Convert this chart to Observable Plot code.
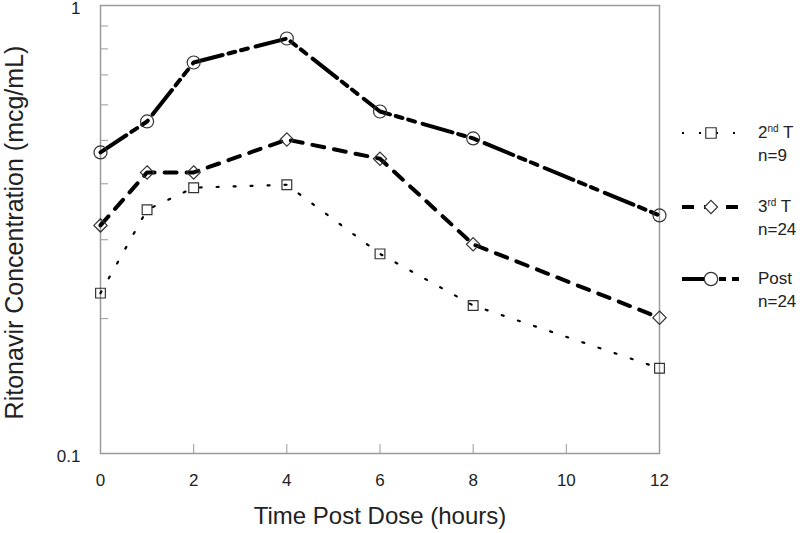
<!DOCTYPE html>
<html>
<head>
<meta charset="utf-8">
<script src="https://cdn.jsdelivr.net/npm/d3@7"></script>
<script src="https://cdn.jsdelivr.net/npm/@observablehq/plot@0.6"></script>
<style>
  html, body { margin: 0; padding: 0; background: white; }
  #wrap { position: relative; width: 800px; height: 533px; font-family: "Liberation Sans", Arial, sans-serif; color: #222; }
  #legend { position: absolute; left: 0; top: 0; width: 800px; height: 533px; pointer-events: none; }
  .lg-item { position: absolute; left: 680px; }
  .lg-text { position: absolute; left: 758px; font-size: 17px; line-height: 23px; color: #222; white-space: nowrap; }
  .lg-text sup { font-size: 10px; vertical-align: 6px; line-height: 0; }
</style>
</head>
<body>
<div id="wrap"><div id="chart"></div><div id="legend"></div></div>
<script>
// ---- data ----
const times = [0, 1, 2, 4, 6, 8, 12];
const secondT = [0.228, 0.350, 0.392, 0.398, 0.279, 0.214, 0.155];
const thirdT  = [0.323, 0.424, 0.424, 0.502, 0.455, 0.293, 0.201];
const postT   = [0.470, 0.551, 0.746, 0.844, 0.580, 0.505, 0.340];
const xTickValues = [0, 2, 4, 6, 8, 10, 12];
const xInnerTicks = [2, 4, 6, 8, 10];
const yLabelTicks = [0.1, 1];
const yMinorTicks = [0.2, 0.3, 0.4, 0.5, 0.6, 0.7, 0.8, 0.9];
const seriesNames = ["2nd T", "3rd T", "Post"];
const seriesN = ["n=9", "n=24", "n=24"];

const toRows = vals => times.map((t, i) => ({t, v: vals[i]}));
const sData = toRows(secondT), tData = toRows(thirdT), pData = toRows(postT);

const styles = [
  {data: sData, dash: "2,15", width: 2.2, symbol: "square", r: 5.5},
  {data: tData, dash: "12,10", width: 4, symbol: "diamond2", r: 6},
  {data: pData, dash: "31,6,7,6,7,8", width: 4, symbol: "circle", r: 6.5}
];

const font = "'Liberation Sans', Arial, sans-serif";

const chart = Plot.plot({
  width: 800, height: 533,
  marginLeft: 100, marginRight: 141, marginTop: 5, marginBottom: 80,
  style: {fontFamily: font, fontSize: "17px", background: "white", color: "#222", overflow: "visible"},
  x: {domain: [0, 12]},
  y: {type: "log", domain: [0.1, 1]},
  marks: [
    Plot.frame({stroke: "#9a9a9a", strokeWidth: 1.5}),
    Plot.axisY({ticks: yMinorTicks, tickSize: -8, tickFormat: () => "", stroke: "#9a9a9a", label: null}),
    Plot.axisY({ticks: yLabelTicks, tickSize: 0, tickPadding: 20, tickFormat: d => String(d), fontSize: 17, dy: 3, label: null}),
    Plot.axisX({ticks: xInnerTicks, tickSize: -9, tickFormat: () => "", stroke: "#9a9a9a", label: null}),
    Plot.axisX({ticks: xTickValues, tickSize: 0, tickPadding: 20, fontSize: 17, tickFormat: d => String(d), label: null}),
    Plot.text(["Time Post Dose (hours)"], {frameAnchor: "bottom", text: d => d, dy: 70, fontSize: 24, fill: "#222"}),
    Plot.text(["Ritonavir Concentration (mcg/mL)"], {frameAnchor: "left", textAnchor: "middle", text: d => d, rotate: -90, dx: -86, dy: 3, fontSize: 25, fill: "#222"}),
    ...styles.map(s => Plot.line(s.data, {x: "t", y: "v", stroke: "black", strokeWidth: s.width, strokeDasharray: s.dash})),
    ...styles.map(s => Plot.dot(s.data, {x: "t", y: "v", symbol: s.symbol, r: s.r, fill: "none", stroke: "#333", strokeWidth: 1.2}))
  ]
});
document.getElementById("chart").appendChild(chart);

// ---- legend ----
const legend = d3.select("#legend");
const legendY = [133, 207, 279];
const sup = ["nd", "rd", null];
styles.forEach((s, i) => {
  const svg = legend.append("svg")
    .attr("class", "lg-item")
    .attr("width", 64).attr("height", 20)
    .style("top", (legendY[i] - 10) + "px");
  svg.append("line").attr("x1", 2).attr("x2", 62).attr("y1", 10).attr("y2", 10)
    .attr("stroke", "black").attr("stroke-width", s.width).attr("stroke-dasharray", s.dash);
  const sym = d3.symbol().type({square: d3.symbolSquare, diamond2: d3.symbolDiamond2, circle: d3.symbolCircle}[s.symbol])
    .size(s.symbol === "circle" ? 140 : 110);
  svg.append("path").attr("d", sym()).attr("transform", "translate(31,10)")
    .attr("fill", "white").attr("stroke", "#333").attr("stroke-width", 1.2);
  const div = legend.append("div").attr("class", "lg-text").style("top", (legendY[i] - 12) + "px");
  const name = seriesNames[i];
  if (sup[i]) {
    div.append("span").text(name[0]);
    div.append("sup").text(sup[i]);
    div.append("span").text(" T");
  } else {
    div.append("span").text(name);
  }
  div.append("br");
  div.append("span").text(seriesN[i]);
});
</script>
</body>
</html>
